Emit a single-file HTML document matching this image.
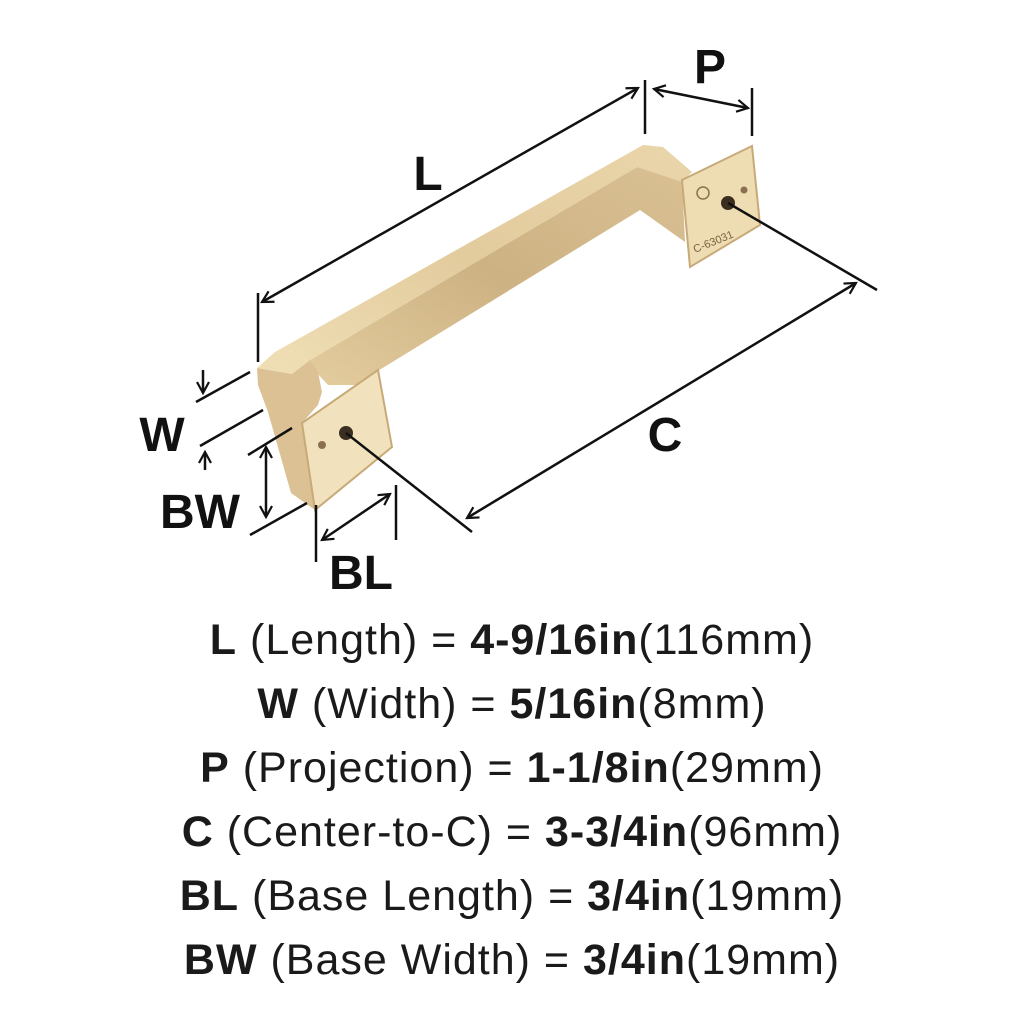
<!DOCTYPE html>
<html><head><meta charset="utf-8"><style>
body{margin:0;background:#fff;width:1024px;height:1024px;overflow:hidden;font-family:"Liberation Sans",sans-serif;}
svg{position:absolute;left:0;top:0}
.t{position:absolute;left:0;width:1024px;text-align:center;font-size:43px;color:#1a1a1a;letter-spacing:1px;white-space:nowrap}
.t b{font-weight:bold}
</style></head><body>
<svg width="1024" height="1024" viewBox="0 0 1024 1024">
<defs>
<linearGradient id="g1" x1="0" y1="1" x2="1" y2="0"><stop offset="0" stop-color="#f0dfb6"/><stop offset="0.5" stop-color="#e2cb9d"/><stop offset="1" stop-color="#ead6ab"/></linearGradient>
<linearGradient id="g2" x1="0" y1="1" x2="1" y2="0"><stop offset="0" stop-color="#e3cc9e"/><stop offset="0.5" stop-color="#cdb283"/><stop offset="1" stop-color="#d9c093"/></linearGradient>
<marker id="a" markerWidth="14" markerHeight="14" refX="12" refY="7" orient="auto-start-reverse" markerUnits="userSpaceOnUse"><path d="M1,1 L12,7 L1,13" fill="none" stroke="#111" stroke-width="2.2"/></marker>
</defs>
<!-- inner face -->
<polygon points="310,360 637,167 682,180 685,242 640,210 355,385 328,385 316,372" fill="url(#g2)"/>
<!-- top face -->
<polygon points="257,368 275,352 643,145 663,147 692,172 682,182 637,167 310,360 292,374" fill="url(#g1)"/>
<!-- left post side -->
<polygon points="257,368 292,374 310,360 318,372 322,392 318,405 302,423 315,510 291,493 268,412 258,385" fill="#dcc194"/>
<polygon points="302,423 378,370 392,447 315,510" fill="#f1e1bc" stroke="#c8aa78" stroke-width="2"/>
<polygon points="682,180 752,146 760,225 690,267" fill="#eedcb3" stroke="#c8aa78" stroke-width="2"/>
<circle cx="346" cy="433" r="7" fill="#3a2e20"/><circle cx="322" cy="445" r="4" fill="#8a7050"/>
<circle cx="728" cy="203" r="7" fill="#3a2e20"/><circle cx="744" cy="190" r="3.5" fill="#8a7050"/>
<circle cx="703" cy="193" r="6" fill="none" stroke="#8a7050" stroke-width="1.5"/>
<text x="695" y="253" font-size="11" fill="#7a6040" transform="rotate(-22 695 253)">C-63031</text>
<g stroke="#111" stroke-width="2.5" fill="none">
<line x1="258" y1="293" x2="258" y2="362"/><line x1="645" y1="80" x2="645" y2="134"/><line x1="752" y1="88" x2="752" y2="136"/>
<line x1="262" y1="302" x2="638" y2="88" marker-start="url(#a)" marker-end="url(#a)"/>
<line x1="654" y1="89" x2="748" y2="108" marker-start="url(#a)" marker-end="url(#a)"/>
<line x1="346" y1="433" x2="472" y2="532"/><line x1="728" y1="203" x2="877" y2="290"/>
<line x1="467" y1="518" x2="856" y2="283" marker-start="url(#a)" marker-end="url(#a)"/>
<line x1="196" y1="402" x2="250" y2="372"/><line x1="200" y1="446" x2="263" y2="410"/>
<line x1="248" y1="455" x2="292" y2="428"/><line x1="250" y1="535" x2="307" y2="503"/>
<line x1="203" y1="370" x2="203" y2="393" marker-end="url(#a)"/><line x1="205" y1="470" x2="205" y2="452" marker-end="url(#a)"/>
<line x1="266" y1="447" x2="266" y2="517" marker-start="url(#a)" marker-end="url(#a)"/>
<line x1="316" y1="505" x2="316" y2="562"/><line x1="396" y1="485" x2="396" y2="540"/>
<line x1="322" y1="540" x2="390" y2="494" marker-start="url(#a)" marker-end="url(#a)"/>
</g>
<g font-family="Liberation Sans,sans-serif" font-size="48" font-weight="bold" fill="#111" text-anchor="middle">
<text x="428" y="190">L</text><text x="710" y="83">P</text><text x="665" y="451">C</text>
<text x="162" y="451">W</text><text x="200" y="528">BW</text><text x="361" y="589">BL</text>
</g>
</svg>
<div class="t" style="top:616px"><b>L</b> (Length) = <b>4-9/16in</b>(116mm)</div>
<div class="t" style="top:680px"><b>W</b> (Width) = <b>5/16in</b>(8mm)</div>
<div class="t" style="top:744px"><b>P</b> (Projection) = <b>1-1/8in</b>(29mm)</div>
<div class="t" style="top:808px"><b>C</b> (Center-to-C) = <b>3-3/4in</b>(96mm)</div>
<div class="t" style="top:872px"><b>BL</b> (Base Length) = <b>3/4in</b>(19mm)</div>
<div class="t" style="top:936px"><b>BW</b> (Base Width) = <b>3/4in</b>(19mm)</div>
</body></html>
